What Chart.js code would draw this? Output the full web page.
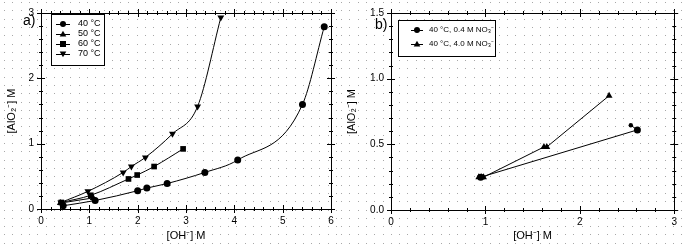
<!DOCTYPE html>
<html>
<head>
<meta charset="utf-8">
<script src="https://cdn.jsdelivr.net/npm/chart.js@4/dist/chart.umd.min.js"></script>
<style>
  body { margin: 0; background: #fff; }
  #wrap { position: relative; width: 683px; height: 246px; }
  canvas { position: absolute; top: 0; }
  #chartA { left: 0; }
  #chartB { left: 340px; }
</style>
</head>
<body>
<div id="wrap">
  <canvas id="chartA" width="340" height="246"></canvas>
  <canvas id="chartB" width="343" height="246"></canvas>
</div>
<script>
// panel a) solubility vs [OH-] at several temperatures
const labelsA = ['40 °C', '50 °C', '60 °C', '70 °C'];
const ohA40 = [0.46, 1.12, 2.0, 2.19, 2.61, 3.39, 4.07, 5.41, 5.86];
const alA40 = [0.05, 0.13, 0.28, 0.32, 0.39, 0.56, 0.75, 1.60, 2.79];
const ohA50 = [0.40, 1.08];
const alA50 = [0.09, 0.17];
const ohA60 = [0.42, 1.03, 1.81, 1.99, 2.34, 2.94];
const alA60 = [0.10, 0.21, 0.46, 0.52, 0.65, 0.92];
const ohA70 = [0.41, 0.97, 1.70, 1.87, 2.16, 2.72, 3.24, 3.72];
const alA70 = [0.10, 0.27, 0.56, 0.65, 0.79, 1.15, 1.57, 2.93];

// panel b) effect of nitrate at 40 °C
const labelsB = ['40 °C, 0.4 M NO₃⁻', '40 °C, 4.0 M NO₃⁻'];
const ohB04 = [0.95, 2.61, 2.54];
const alB04 = [0.25, 0.61, 0.645];
const ohB40 = [0.93, 0.96, 0.98, 1.62, 1.65, 2.31];
const alB40 = [0.25, 0.25, 0.25, 0.48, 0.48, 0.87];

const ticksYA = [0, 1, 2, 3];
const ticksYB = [0, 0.5, 1.0, 1.5];

const FONT = 'Arial, "Liberation Sans", sans-serif';

function pts(xs, ys) {
  return xs.map((x, i) => ({ x: x, y: ys[i] }));
}

// dotted page background, plot frame, ticks on all four sides, legend box, panel tag
function framePlugin(opts) {
  return {
    id: 'frame',
    beforeDraw(chart) {
      const c = chart.ctx;
      c.save();
      c.fillStyle = '#fff';
      c.fillRect(0, 0, chart.width, chart.height);
      c.fillStyle = '#a8a8a8';
      for (let y = opts.dotY; y < chart.height; y += 8.3) {
        for (let x = opts.dotX; x < chart.width; x += 8.3) {
          c.fillRect(Math.round(x), Math.round(y), 1, 1);
        }
      }
      c.restore();
    },
    afterDraw(chart) {
      const c = chart.ctx;
      const a = chart.chartArea;
      const xs = chart.scales.x, ys = chart.scales.y;
      c.save();
      c.strokeStyle = '#000';
      c.lineWidth = 1;
      c.strokeRect(Math.round(a.left) + 0.5, Math.round(a.top) + 0.5,
        Math.round(a.right - a.left), Math.round(a.bottom - a.top));
      c.beginPath();
      for (let v = xs.min; v <= xs.max + 1e-9; v += opts.xMinor) {
        const px = Math.round(xs.getPixelForValue(v)) + 0.5;
        const major = Math.abs(v / opts.xMajor - Math.round(v / opts.xMajor)) < 1e-6;
        const len = major ? 4 : 2;
        c.moveTo(px, a.bottom - len); c.lineTo(px, a.bottom + len);
        c.moveTo(px, a.top - len); c.lineTo(px, a.top + len);
      }
      for (let v = ys.min; v <= ys.max + 1e-9; v += opts.yMinor) {
        const py = Math.round(ys.getPixelForValue(v)) + 0.5;
        const major = Math.abs(v / opts.yMajor - Math.round(v / opts.yMajor)) < 1e-6;
        const len = major ? 4 : 2;
        c.moveTo(a.left - len, py); c.lineTo(a.left + len, py);
        c.moveTo(a.right - len, py); c.lineTo(a.right + len, py);
      }
      c.stroke();

      // panel tag
      c.fillStyle = '#000';
      c.font = '14px ' + FONT;
      c.textBaseline = 'middle';
      c.fillText(opts.tag, opts.tagX, opts.tagY);

      // legend box
      const lg = opts.legend;
      c.fillStyle = '#fff';
      c.fillRect(lg.x, lg.y, lg.w, lg.h);
      c.strokeRect(lg.x + 0.5, lg.y + 0.5, lg.w, lg.h);
      c.font = lg.font + 'px ' + FONT;
      chart.data.datasets.forEach((ds, i) => {
        const yy = lg.y + lg.first + i * lg.step;
        c.beginPath();
        c.moveTo(lg.x + lg.l0, yy + 0.5); c.lineTo(lg.x + lg.l1, yy + 0.5);
        c.stroke();
        drawMarker(c, ds.pointStyle, ds.rotation || 0, lg.x + (lg.l0 + lg.l1) / 2, yy, 3);
        c.fillStyle = '#000';
        c.fillText(ds.label, lg.x + lg.tx, yy);
      });
      c.restore();
    }
  };
}

function drawMarker(c, style, rot, x, y, r) {
  c.fillStyle = '#000';
  c.beginPath();
  if (style === 'circle') {
    c.arc(x, y, r, 0, Math.PI * 2);
  } else if (style === 'rect') {
    c.rect(x - r, y - r, 2 * r, 2 * r);
  } else {
    const s = rot ? -1 : 1;
    c.moveTo(x, y - s * r * 1.1);
    c.lineTo(x - r * 1.1, y + s * r * 0.8);
    c.lineTo(x + r * 1.1, y + s * r * 0.8);
    c.closePath();
  }
  c.fill();
}

function series(label, xs, ys, style, rot, radius, tension) {
  return {
    label: label,
    data: pts(xs, ys),
    borderColor: '#000',
    backgroundColor: '#000',
    borderWidth: 1,
    pointStyle: style,
    rotation: rot,
    pointRadius: radius,
    pointHoverRadius: radius,
    pointBorderWidth: 0,
    tension: tension,
    cubicInterpolationMode: tension ? 'monotone' : 'default'
  };
}

function axisX(max, height) {
  return {
    type: 'linear', min: 0, max: max,
    grid: { display: false, drawTicks: false },
    border: { display: false },
    ticks: { stepSize: 1, color: '#000', font: { size: 10, family: FONT }, padding: 6, maxRotation: 0 },
    title: { display: true, text: '[OH⁻] M', color: '#000', font: { size: 11, family: FONT }, padding: { top: 2, bottom: 3 } },
    afterFit(s) { s.height = height; }
  };
}

function axisY(max, labels, width, decimals) {
  return {
    type: 'linear', min: 0, max: max,
    grid: { display: false, drawTicks: false },
    border: { display: false },
    afterBuildTicks(s) { s.ticks = labels.map(v => ({ value: v })); },
    ticks: {
      color: '#000', font: { size: 10, family: FONT }, padding: 7,
      callback: v => v.toFixed(decimals)
    },
    title: { display: true, text: '[AlO₂⁻] M', color: '#000', font: { size: 11, family: FONT }, padding: { top: 5, bottom: 4 } },
    afterFit(s) { s.width = width; }
  };
}

new Chart(document.getElementById('chartA').getContext('2d'), {
  type: 'line',
  data: {
    datasets: [
      series(labelsA[0], ohA40, alA40, 'circle', 0, 3.5, 0.4),
      series(labelsA[1], ohA50, alA50, 'triangle', 0, 4, 0.4),
      series(labelsA[2], ohA60, alA60, 'rect', 0, 4, 0.4),
      series(labelsA[3], ohA70, alA70, 'triangle', 180, 4, 0.4)
    ]
  },
  options: {
    responsive: false,
    animation: false,
    layout: { padding: { left: 0, top: 6, right: 9, bottom: 0 } },
    plugins: { legend: { display: false }, tooltip: { enabled: false } },
    scales: { x: axisX(6, 37), y: axisY(3, ticksYA, 41, 0) }
  },
  plugins: [framePlugin({
    dotX: 4, dotY: 2, xMinor: 0.2, xMajor: 1, yMinor: 0.2, yMajor: 1,
    tag: 'a)', tagX: 23, tagY: 21,
    legend: { x: 51, y: 14, w: 53, h: 51, first: 10, step: 10, l0: 5, l1: 19, tx: 27, font: 9 }
  })]
});

new Chart(document.getElementById('chartB').getContext('2d'), {
  type: 'line',
  data: {
    datasets: [
      series(labelsB[0], ohB04, alB04, 'circle', 0, [3.5, 3.5, 2.2], 0),
      series(labelsB[1], ohB40, alB40, 'triangle', 0, 4, 0)
    ]
  },
  options: {
    responsive: false,
    animation: false,
    layout: { padding: { left: 0, top: 12, right: 8, bottom: 0 } },
    plugins: { legend: { display: false }, tooltip: { enabled: false } },
    scales: { x: axisX(3, 36), y: axisY(1.5, ticksYB, 51, 1) }
  },
  plugins: [framePlugin({
    dotX: 1, dotY: 2, xMinor: 0.2, xMajor: 1, yMinor: 0.1, yMajor: 0.5,
    tag: 'b)', tagX: 35, tagY: 25,
    legend: { x: 58, y: 20, w: 97, h: 36, first: 10, step: 14, l0: 13, l1: 25, tx: 31, font: 8 }
  })]
});
</script>
</body>
</html>
